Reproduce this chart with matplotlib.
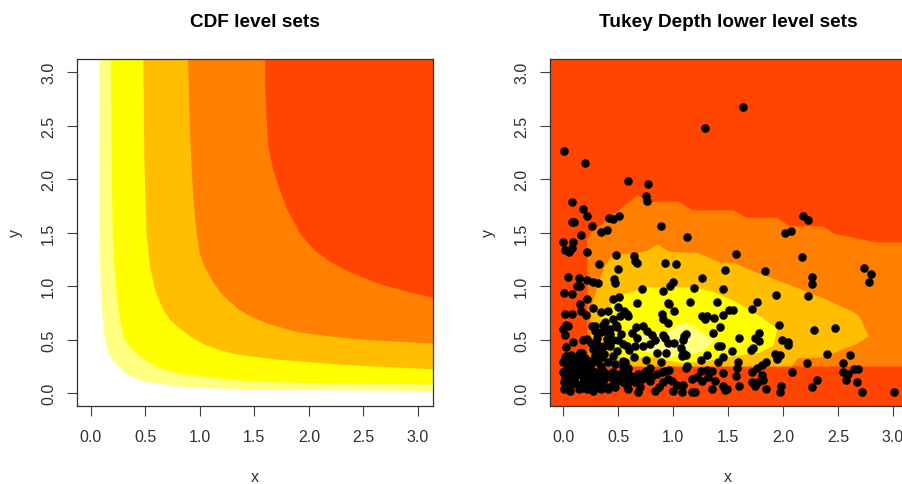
import numpy as np
import matplotlib
matplotlib.use("Agg")
import matplotlib.pyplot as plt

plt.rcParams['font.family'] = ['Liberation Sans', 'DejaVu Sans']

# heat colours, lowest region first
white = "#ffffff"
pale = "#ffff80"
yellow = "#ffff00"
gold = "#ffbf00"
orange = "#ff8000"
red = "#ff4500"

# left panel, CDF level curves
cdf1_x = [0.08, 0.08, 0.08, 0.085, 0.09, 0.10, 0.11, 0.13, 0.15, 0.18, 0.22, 0.26, 0.31, 0.38, 0.48, 0.62, 0.79, 1.00, 1.30, 2.00, 3.20]
cdf1_y = [3.20, 2.00, 1.50, 1.25, 1.00, 0.80, 0.65, 0.50, 0.41, 0.34, 0.28, 0.24, 0.20, 0.15, 0.11, 0.085, 0.065, 0.05, 0.04, 0.03, 0.02]
cdf2_x = [0.18, 0.19, 0.20, 0.215, 0.23, 0.25, 0.28, 0.31, 0.36, 0.42, 0.50, 0.59, 0.69, 0.79, 1.00, 1.20, 1.46, 1.80, 2.40, 3.20]
cdf2_y = [3.20, 2.20, 1.50, 1.20, 1.00, 0.80, 0.62, 0.50, 0.43, 0.37, 0.31, 0.25, 0.215, 0.19, 0.16, 0.135, 0.11, 0.10, 0.09, 0.08]
cdf3_x = [0.48, 0.49, 0.51, 0.54, 0.58, 0.62, 0.66, 0.73, 0.82, 0.92, 1.03, 1.16, 1.30, 1.46, 1.70, 2.00, 2.30, 2.60, 3.20]
cdf3_y = [3.20, 2.20, 1.50, 1.20, 1.00, 0.88, 0.785, 0.68, 0.60, 0.525, 0.46, 0.41, 0.37, 0.345, 0.315, 0.29, 0.265, 0.25, 0.22]
cdf4_x = [0.89, 0.91, 0.93, 0.95, 0.97, 1.00, 1.05, 1.12, 1.19, 1.27, 1.36, 1.46, 1.62, 1.90, 2.20, 2.50, 3.20]
cdf4_y = [3.20, 2.40, 2.00, 1.70, 1.50, 1.30, 1.17, 1.04, 0.94, 0.86, 0.78, 0.72, 0.65, 0.57, 0.53, 0.50, 0.46]
cdf5_x = [1.60, 1.60, 1.61, 1.63, 1.67, 1.73, 1.80, 1.92, 2.05, 2.19, 2.40, 2.65, 2.90, 3.20]
cdf5_y = [3.20, 2.90, 2.60, 2.30, 2.10, 1.91, 1.72, 1.49, 1.34, 1.23, 1.12, 1.02, 0.95, 0.88]

# right panel, depth regions
orange_x = [0.22, 0.22, 0.26, 0.31, 0.68, 0.79, 1.05, 1.18, 1.55, 1.67, 1.95, 2.06, 2.36, 2.47, 2.85, 3.20, 3.20]
orange_y = [0.25, 1.44, 1.51, 1.55, 1.85, 1.79, 1.79, 1.71, 1.71, 1.64, 1.64, 1.56, 1.56, 1.49, 1.41, 1.41, 0.25]
gold_x = [0.43, 2.08, 2.14, 2.34, 2.50, 2.67, 2.78, 2.75, 2.70, 2.64, 2.34, 2.09, 1.73, 1.55, 1.43, 1.23, 0.97, 0.86, 0.76, 0.63, 0.45, 0.38, 0.31, 0.27, 0.25, 0.25, 0.34]
gold_y = [0.25, 0.25, 0.33, 0.33, 0.39, 0.46, 0.53, 0.60, 0.71, 0.76, 0.90, 1.00, 1.14, 1.22, 1.22, 1.31, 1.32, 1.39, 1.33, 1.30, 1.30, 1.19, 1.00, 0.85, 0.72, 0.46, 0.32]
yellow_x = [0.79, 1.18, 1.36, 1.58, 1.79, 1.95, 1.91, 1.79, 1.52, 1.31, 1.09, 0.97, 0.79, 0.56, 0.47, 0.38, 0.34, 0.36, 0.52, 0.70]
yellow_y = [0.99, 0.99, 0.95, 0.85, 0.72, 0.60, 0.44, 0.38, 0.34, 0.30, 0.28, 0.30, 0.34, 0.32, 0.36, 0.50, 0.67, 0.76, 0.91, 0.97]
pale_x = [0.61, 0.70, 0.79, 0.95, 1.09, 1.17, 1.38, 1.27, 1.09, 0.88, 0.75]
pale_y = [0.48, 0.55, 0.57, 0.58, 0.66, 0.63, 0.49, 0.39, 0.35, 0.34, 0.39]

# sample points
points_x = [
    1.29, 0.01, 0.20, 0.59, 0.77, 0.75, 0.76, 0.08, 0.18, 0.22, 0.08, 0.10, 0.26, 0.42, 0.45, 0.51,
    0.40, 0.89, 0.34, 1.64, 2.18, 2.23, 2.02, 2.07, 0.00, 0.09, 0.02, 0.05, 0.08, 0.16, 0.22, 0.48,
    0.33, 0.64, 0.65, 0.67, 0.93, 0.50, 0.04, 0.14, 0.13, 0.15, 0.22, 0.27, 0.32, 0.46, 0.47, 0.01,
    0.08, 0.72, 0.91, 0.45, 0.51, 0.22, 0.15, 0.27, 0.16, 0.67, 0.50, 0.02, 0.08, 0.21, 0.34, 0.41,
    0.55, 0.58, 0.59, 0.52, 0.38, 0.45, 0.48, 0.04, 0.26, 0.29, 0.36, 0.66, 0.73, 0.90, 0.91, 0.95,
    0.95, 0.00, 0.03, 0.02, 0.09, 0.18, 0.22, 0.03, 0.15, 0.14, 0.02, 0.08, 0.00, 0.05, 0.11, 0.15,
    0.29, 0.34, 0.38, 0.43, 0.45, 0.50, 0.54, 0.58, 0.40, 0.43, 0.27, 0.31, 0.34, 0.29, 0.35, 0.49,
    0.45, 0.56, 0.54, 0.67, 0.76, 0.65, 0.73, 0.79, 0.81, 0.84, 0.91, 0.93, 0.95, 1.01, 0.85, 0.94,
    0.64, 0.75, 0.89, 1.07, 1.09, 1.12, 1.08, 1.10, 1.12, 1.09, 1.13, 0.96, 1.25, 1.31, 1.26, 1.29,
    1.31, 1.37, 1.36, 1.41, 1.41, 1.15, 0.96, 1.01, 1.19, 1.00, 0.97, 1.26, 1.03, 1.13, 1.40, 1.57,
    2.17, 2.74, 2.80, 2.78, 1.47, 1.84, 2.26, 2.26, 1.45, 1.94, 2.23, 1.76, 1.72, 1.51, 1.55, 1.45,
    1.96, 2.28, 2.47, 1.43, 1.78, 1.75, 1.78, 1.60, 1.99, 2.05, 2.05, 1.44, 1.73, 1.71, 1.54, 1.93,
    1.97, 1.95, 2.40, 2.61, 2.22, 2.55, 1.45, 1.59, 1.58, 1.85, 1.81, 1.76, 1.72, 2.08, 2.65, 2.68,
    2.55, 2.59, 2.57, 2.67, 2.72, 3.01, 2.31, 2.26, 1.45, 1.57, 1.81, 1.82, 1.77, 1.72, 1.75, 1.85,
    1.98, 1.97, 1.60, 1.45, 1.49, 1.47, 1.12, 1.25, 1.31, 1.35, 1.17, 1.22, 1.26, 1.32, 1.38, 1.09,
    0.99, 1.04, 1.35, 1.20, 1.17, 1.08, 1.00, 0.01, 0.06, 0.14, 0.22, 0.27, 0.34, 0.41, 0.47, 0.59,
    0.58, 0.68, 0.84, 0.04, 0.02, 0.06, 0.18, 0.26, 0.35, 0.45, 0.54, 0.61, 0.65, 0.72, 0.79, 0.91,
    0.00, 0.05, 0.09, 0.15, 0.18, 0.25, 0.26, 0.32, 0.36, 0.41, 0.45, 0.50, 0.55, 0.59, 0.68, 0.75,
    0.77, 0.85, 0.90, 0.95, 0.13, 0.17, 0.34, 0.41, 0.47, 0.54, 0.59, 0.06, 0.13, 0.20, 0.79,
]
points_y = [
    2.48, 2.26, 2.15, 1.98, 1.96, 1.84, 1.80, 1.79, 1.72, 1.66, 1.60, 1.60, 1.56, 1.64, 1.63, 1.66,
    1.53, 1.56, 1.51, 2.68, 1.66, 1.62, 1.50, 1.52, 1.41, 1.41, 1.34, 1.32, 1.36, 1.48, 1.32, 1.29,
    1.21, 1.28, 1.24, 1.22, 1.22, 1.16, 1.09, 1.08, 1.00, 1.00, 1.06, 1.04, 1.03, 1.07, 1.03, 0.94,
    0.93, 0.97, 0.96, 0.88, 0.90, 0.88, 0.83, 0.80, 0.77, 0.84, 0.81, 0.74, 0.74, 0.73, 0.76, 0.77,
    0.77, 0.74, 0.72, 0.72, 0.67, 0.69, 0.64, 0.63, 0.63, 0.63, 0.64, 0.62, 0.63, 0.74, 0.69, 0.66,
    0.84, 0.60, 0.64, 0.54, 0.48, 0.50, 0.51, 0.43, 0.38, 0.36, 0.34, 0.32, 0.29, 0.30, 0.30, 0.29,
    0.58, 0.57, 0.58, 0.60, 0.50, 0.50, 0.46, 0.44, 0.51, 0.44, 0.41, 0.46, 0.39, 0.36, 0.34, 0.39,
    0.35, 0.29, 0.25, 0.52, 0.58, 0.44, 0.44, 0.46, 0.54, 0.50, 0.54, 0.52, 0.47, 0.47, 0.38, 0.38,
    0.34, 0.31, 0.29, 0.42, 0.38, 0.36, 0.35, 0.53, 0.55, 0.50, 0.25, 0.22, 0.31, 0.36, 0.72, 0.69,
    0.72, 0.70, 0.56, 0.44, 0.29, 0.85, 0.83, 0.77, 0.98, 1.04, 1.00, 1.08, 1.21, 1.46, 0.85, 1.30,
    1.27, 1.17, 1.11, 1.04, 1.15, 1.14, 1.09, 1.02, 0.97, 0.92, 0.91, 0.85, 0.79, 0.78, 0.78, 0.73,
    0.64, 0.59, 0.61, 0.62, 0.56, 0.52, 0.49, 0.52, 0.50, 0.48, 0.45, 0.44, 0.42, 0.40, 0.39, 0.37,
    0.36, 0.32, 0.37, 0.36, 0.28, 0.28, 0.34, 0.29, 0.24, 0.29, 0.26, 0.24, 0.20, 0.20, 0.23, 0.23,
    0.20, 0.18, 0.12, 0.10, 0.01, 0.01, 0.12, 0.06, 0.19, 0.16, 0.17, 0.12, 0.10, 0.10, 0.07, 0.04,
    0.07, 0.01, 0.07, 0.07, 0.04, 0.03, 0.24, 0.21, 0.22, 0.21, 0.13, 0.15, 0.11, 0.15, 0.11, 0.08,
    0.11, 0.08, 0.04, 0.01, 0.01, 0.01, 0.02, 0.04, 0.02, 0.04, 0.04, 0.02, 0.04, 0.04, 0.06, 0.04,
    0.07, 0.01, 0.02, 0.08, 0.13, 0.10, 0.10, 0.10, 0.08, 0.08, 0.10, 0.11, 0.10, 0.13, 0.11, 0.10,
    0.20, 0.20, 0.18, 0.22, 0.16, 0.21, 0.15, 0.16, 0.21, 0.18, 0.20, 0.15, 0.22, 0.18, 0.18, 0.21,
    0.15, 0.18, 0.20, 0.13, 0.24, 0.38, 0.25, 0.29, 0.27, 0.30, 0.24, 0.25, 0.24, 0.22, 0.24,
]
# the crowded belt near the axes, where single dots are hard to tell apart
belt_x = [0.03, 0.07, 0.11, 0.05, 0.09, 0.12, 0.16, 0.19, 0.02, 0.07, 0.12, 0.17, 0.22, 0.01, 0.05, 0.10, 0.14, 0.19, 0.24, 0.28, 0.31,
          0.03, 0.08, 0.12, 0.17, 0.21, 0.25, 0.29, 0.33, 0.37, 0.40, 0.44, 0.48, 0.52, 0.56, 0.62, 0.66, 0.70, 0.74, 0.81, 0.87, 0.93,
          0.30, 0.33, 0.37, 0.28, 0.24, 0.20, 0.25, 0.31, 0.37, 0.43, 0.49, 0.53, 0.60, 0.63]
belt_y = [0.35, 0.36, 0.34, 0.26, 0.27, 0.28, 0.27, 0.26, 0.16, 0.15, 0.17, 0.18, 0.17, 0.10, 0.06, 0.13, 0.08, 0.14, 0.12, 0.07, 0.13,
          0.22, 0.09, 0.19, 0.05, 0.09, 0.27, 0.20, 0.11, 0.13, 0.06, 0.14, 0.11, 0.18, 0.14, 0.16, 0.13, 0.06, 0.19, 0.16, 0.06, 0.21,
          0.30, 0.33, 0.37, 0.42, 0.30, 0.33, 0.47, 0.52, 0.44, 0.55, 0.62, 0.55, 0.40, 0.56]

ticks = [0.0, 0.5, 1.0, 1.5, 2.0, 2.5, 3.0]
tick_labels = ["0.0", "0.5", "1.0", "1.5", "2.0", "2.5", "3.0"]
W, H = 903, 485


def make_axes(fig, left, right, x_range, y_range, title):
    ax = fig.add_axes([left / W, 1 - 407 / H, (right - left) / W, 347 / H])
    ax.set_xlim(x_range)
    ax.set_ylim(y_range)
    ax.set_xticks(ticks, tick_labels)
    ax.set_yticks(ticks, tick_labels)
    ax.tick_params(axis="x", length=7, width=0.8, pad=9.5, labelsize=11.5, color="#404040", labelcolor="#303030")
    ax.tick_params(axis="y", length=7, width=0.8, pad=8, labelsize=11.5, color="#404040", labelcolor="#303030")
    plt.setp(ax.get_yticklabels(), rotation=90, va="center")
    for s in ax.spines.values():
        s.set_linewidth(0.9)
        s.set_color("#303030")
    ax.set_title(title, fontsize=13.7, fontweight="bold", pad=24)
    fig.text((left - 62) / W, 1 - 233 / H, "y", rotation=90, fontsize=11.5, color="#303030", ha="center", va="center")
    fig.text((left + 178) / W, 1 - 478 / H, "x", fontsize=11.5, color="#303030", ha="center", va="center")
    return ax


fig = plt.figure(figsize=(W / 100, H / 100), dpi=100)

ax1 = make_axes(fig, 77, 433, (-0.128, 3.14), (-0.12, 3.125), "CDF level sets")
ax1.set_facecolor(white)
levels = [(cdf1_x, cdf1_y, pale), (cdf2_x, cdf2_y, yellow), (cdf3_x, cdf3_y, gold),
          (cdf4_x, cdf4_y, orange), (cdf5_x, cdf5_y, red)]
for cx, cy, col in levels:
    ax1.fill(cx + [3.2], cy + [3.2], color=col, lw=0)

ax2 = make_axes(fig, 550, 906, (-0.12, 3.12), (-0.12, 3.125), "Tukey Depth lower level sets")
ax2.set_facecolor(red)
for rx, ry, col in [(orange_x, orange_y, orange), (gold_x, gold_y, gold),
                    (yellow_x, yellow_y, yellow), (pale_x, pale_y, pale)]:
    ax2.fill(rx, ry, color=col, lw=0)
ax2.scatter(points_x + belt_x, points_y + belt_y, s=38, c="black", lw=0, zorder=3)

fig.savefig("out.png", dpi=100)
